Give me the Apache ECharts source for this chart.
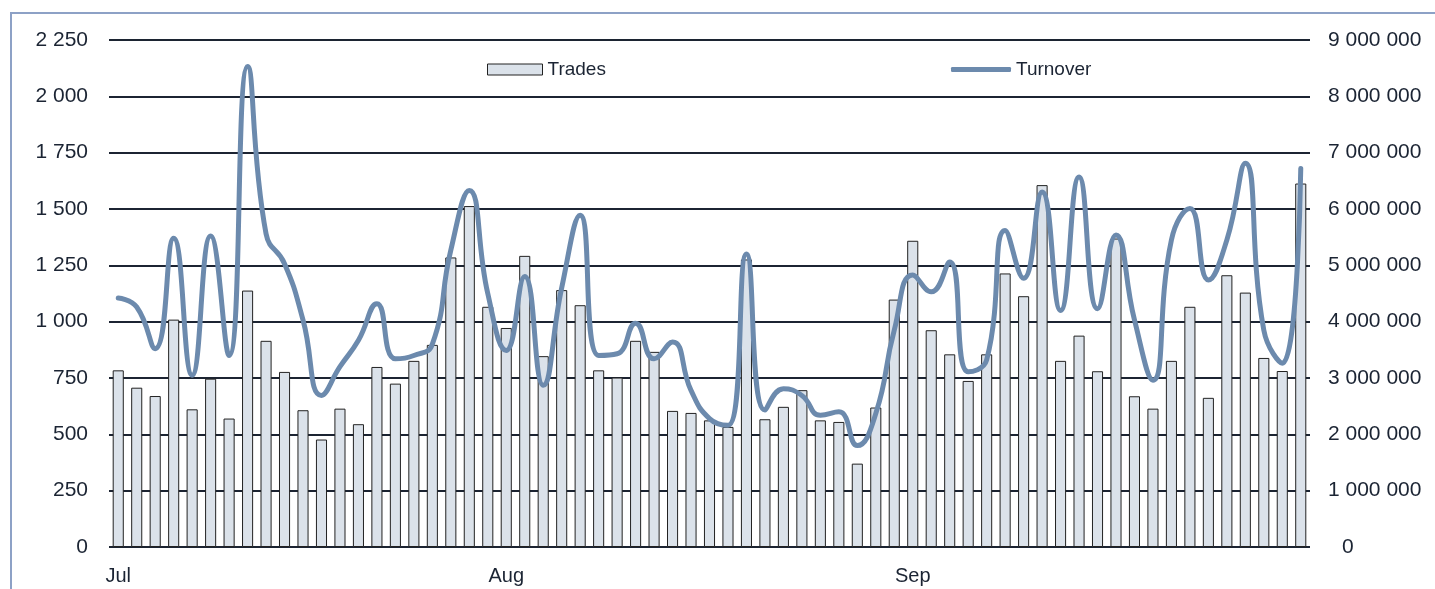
<!DOCTYPE html>
<html>
<head>
<meta charset="utf-8">
<script src="https://cdn.jsdelivr.net/npm/echarts@6/dist/echarts.min.js"></script>
<style>
  html, body { margin: 0; padding: 0; background: #fff; }
  #chart { width: 1435px; height: 589px; }
</style>
</head>
<body>
<div id="chart"></div>
<script>
// daily values, Jul - Sep (65 trading days)
const monthLabels = ['Jul', 'Aug', 'Sep'];
const monthStarts = [0, 21, 43];

const trades = [
  784, 707, 670, 1009, 611, 747, 570, 1138, 915, 777, 607, 477, 614,
  545, 799, 725, 826, 897, 1285, 1513, 1066, 972, 1292, 847, 1140, 1073,
  784, 752, 915, 866, 604, 595, 562, 533, 1276, 567, 622, 696, 562,
  555, 370, 619, 1098, 1359, 962, 855, 737, 855, 1214, 1113, 1606, 826,
  938, 780, 1369, 669, 614, 826, 1066, 662, 1206, 1129, 839, 781, 1613
];

const turnover = [
  4420000, 4260000, 3520000, 5480000, 3050000, 5520000, 3400000, 8530000, 5560000, 5030000, 4030000, 2690000, 3200000,
  3670000, 4320000, 3340000, 3400000, 3600000, 5270000, 6330000, 4500000, 3490000, 4800000, 2870000, 4600000, 5890000,
  3400000, 3430000, 3970000, 3340000, 3640000, 2780000, 2280000, 2160000, 5200000, 2430000, 2810000, 2690000, 2340000,
  2400000, 1800000, 2370000, 3850000, 4830000, 4530000, 5060000, 3110000, 3320000, 5620000, 4770000, 6300000, 4200000,
  6570000, 4230000, 5540000, 4030000, 2960000, 5450000, 6010000, 4740000, 5450000, 6810000, 3850000, 3260000, 6720000
];

const categories = trades.map((v, i) => {
  const k = monthStarts.indexOf(i);
  return k >= 0 ? monthLabels[k] : '';
});

const textColor = '#1b2433';
const gridColor = '#1c2432';
const barFill = '#dbe2ea';
const lineColor = '#6c8aad';
const font = "'Liberation Sans', Arial, sans-serif";

function spaced(n) {
  return String(n).replace(/\B(?=(\d{3})+(?!\d))/g, ' ');
}

const chart = echarts.init(document.getElementById('chart'));

chart.setOption({
  animation: false,
  backgroundColor: '#fff',
  textStyle: { fontFamily: font, color: textColor },
  graphic: [{
    type: 'rect',
    shape: { x: 11, y: 13, width: 1440, height: 600 },
    style: { fill: 'none', stroke: '#8da1c6', lineWidth: 2 },
    silent: true
  }],
  legend: [{
    left: 487, top: 60, padding: 0,
    itemWidth: 55, itemHeight: 11, itemGap: 5,
    textStyle: { fontFamily: font, fontSize: 19, color: textColor },
    data: [{ name: 'Trades', icon: 'rect', itemStyle: { color: barFill, borderColor: '#222', borderWidth: 1 } }]
  }, {
    left: 951, top: 60, padding: 0,
    itemWidth: 60, itemHeight: 5, itemGap: 5,
    textStyle: { fontFamily: font, fontSize: 19, color: textColor },
    data: [{ name: 'Turnover', icon: 'roundRect', itemStyle: { color: lineColor } }]
  }],
  grid: { left: 109, right: 125, top: 40, bottom: 42 },
  xAxis: {
    type: 'category',
    data: categories,
    boundaryGap: true,
    axisLine: { show: false },
    axisTick: { show: false },
    axisLabel: { interval: 0, margin: 19, fontSize: 20, color: textColor, fontFamily: font }
  },
  yAxis: [{
    type: 'value',
    min: 0, max: 2250, interval: 250,
    axisLine: { show: false },
    axisTick: { show: false },
    splitLine: { lineStyle: { color: gridColor, width: 2 } },
    axisLabel: { margin: 21, fontSize: 21, color: textColor, fontFamily: font, formatter: spaced }
  }, {
    type: 'value',
    min: 0, max: 9000000, interval: 1000000,
    axisLine: { show: false },
    axisTick: { show: false },
    splitLine: { show: false },
    axisLabel: {
      margin: 18, fontSize: 21, color: textColor, fontFamily: font,
      formatter: v => v === 0 ? '{z|0}' : spaced(v),
      rich: { z: { fontSize: 21, fontFamily: font, color: textColor, padding: [0, 0, 0, 14] } }
    }
  }],
  series: [{
    name: 'Trades',
    type: 'bar',
    yAxisIndex: 0,
    barWidth: '60%',
    itemStyle: { color: barFill, borderColor: '#222', borderWidth: 1 },
    data: trades,
    z: 2
  }, {
    name: 'Turnover',
    type: 'line',
    yAxisIndex: 1,
    smooth: 0.5,
    showSymbol: false,
    symbol: 'none',
    lineStyle: { color: lineColor, width: 5, cap: 'round', join: 'round' },
    itemStyle: { color: lineColor },
    data: turnover,
    z: 3
  }]
});
</script>
</body>
</html>
